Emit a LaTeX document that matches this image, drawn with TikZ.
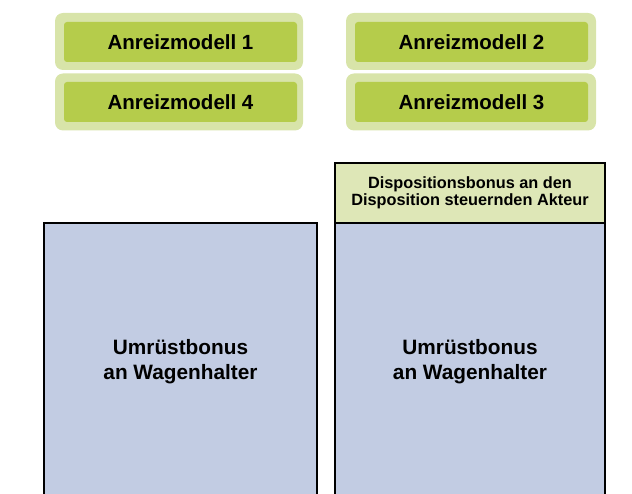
\documentclass[tikz,border=0pt]{standalone}
\usepackage{fontspec}
\setmainfont{Liberation Sans}
\definecolor{outerg}{HTML}{D8E4A9}
\definecolor{innerg}{HTML}{B5CC4B}
\definecolor{bluebox}{HTML}{C2CCE3}
\definecolor{headg}{HTML}{DEE7B7}
\begin{document}
\begin{tikzpicture}[x=1pt,y=-1pt,
  outerbox/.style={fill=outerg, rounded corners=8pt, minimum width=248pt, minimum height=57pt, inner sep=0pt},
  innerbox/.style={fill=innerg, rounded corners=3pt, minimum width=233pt, minimum height=40pt, inner sep=0pt, font=\fontsize{20.5}{24}\selectfont\bfseries},
  bigbox/.style={draw=black, line width=1.5pt, fill=bluebox, minimum height=278pt, inner sep=0pt, align=center, font=\fontsize{20.8}{25}\selectfont\bfseries},
  headbox/.style={draw=black, line width=1.5pt, fill=headg, minimum width=270pt, minimum height=60pt, inner sep=0pt, align=center, font=\fontsize{16.3}{16.7}\selectfont\bfseries}]
\useasboundingbox (0,0) rectangle (632,494);
\node[outerbox] (o1) at (179,41.5) {};
\node[innerbox] (m1) at (180.5,42) {Anreizmodell 1};
\node[outerbox] (o4) at (179,102) {};
\node[innerbox] (m4) at (180.5,102) {Anreizmodell 4};
\node[outerbox, minimum width=250pt] (o2) at (471,41.5) {};
\node[innerbox] (m2) at (471.5,42) {Anreizmodell 2};
\node[outerbox, minimum width=250pt] (o3) at (471,102) {};
\node[innerbox] (m3) at (471.5,102) {Anreizmodell 3};
\node[bigbox, minimum width=273pt] (bl) at (180.5,362) {Umrüstbonus\\an Wagenhalter};
\node[bigbox, minimum width=270pt] (br) at (470,362) {Umrüstbonus\\an Wagenhalter};
\node[headbox] (hd) at (470,193) {Dispositionsbonus an den\\Disposition steuernden Akteur};
\end{tikzpicture}
\end{document}
